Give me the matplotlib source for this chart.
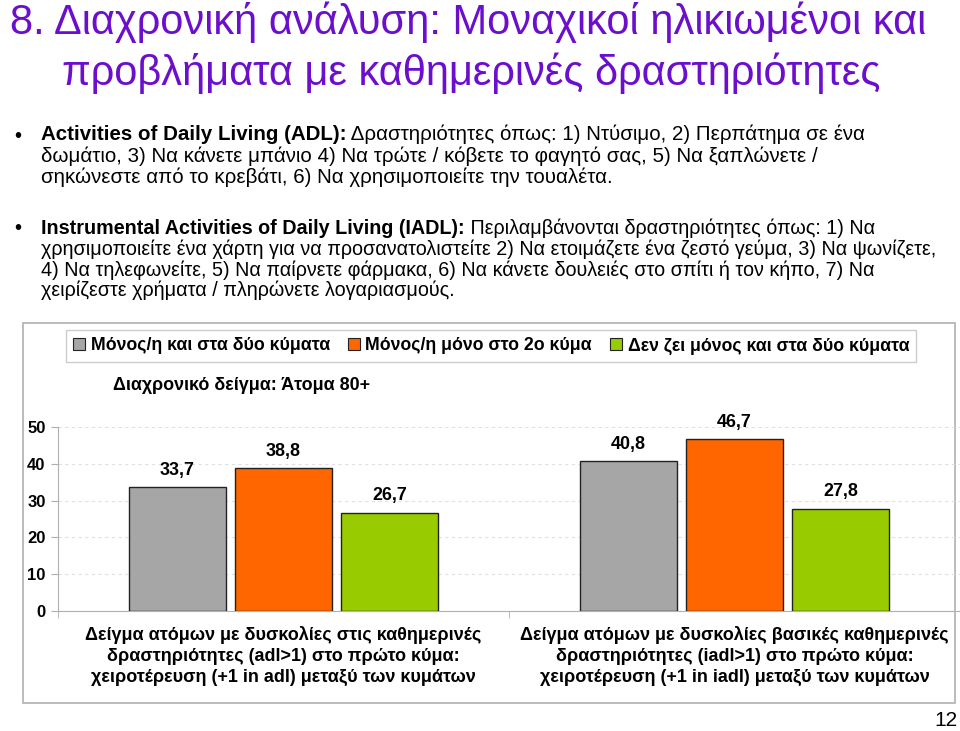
import matplotlib
matplotlib.use("Agg")
import matplotlib.pyplot as plt
from matplotlib.patches import Rectangle, Patch

plt.rcParams['font.family'] = ['Liberation Sans', 'DejaVu Sans']

W, H = 960, 731

# data
groups = ["Δείγμα ατόμων με δυσκολίες στις καθημερινές\nδραστηριότητες (adl>1) στο πρώτο κύμα:\nχειροτέρευση (+1 in adl) μεταξύ των κυμάτων",
          "Δείγμα ατόμων με δυσκολίες βασικές καθημερινές\nδραστηριότητες (iadl>1) στο πρώτο κύμα:\nχειροτέρευση (+1 in iadl) μεταξύ των κυμάτων"]
series = ["Μόνος/η και στα δύο κύματα", "Μόνος/η μόνο στο 2ο κύμα", "Δεν ζει μόνος και στα δύο κύματα"]
alone_both = [33.7, 40.8]
alone_w2 = [38.8, 46.7]
not_alone = [26.7, 27.8]
colors = ["#A6A6A6", "#FF6600", "#99CC00"]
yticks = [0, 10, 20, 30, 40, 50]

title = ["8. Διαχρονική ανάλυση: Μοναχικοί ηλικιωμένοι και",
         "προβλήματα με καθημερινές δραστηριότητες"]
adl_head = "Activities of Daily Living (ADL):"
adl_lines = [" Δραστηριότητες όπως: 1) Ντύσιμο, 2) Περπάτημα σε ένα",
             "δωμάτιο, 3) Να κάνετε μπάνιο 4) Να τρώτε / κόβετε το φαγητό σας, 5) Να ξαπλώνετε /",
             "σηκώνεστε από το κρεβάτι, 6) Να χρησιμοποιείτε την τουαλέτα."]
iadl_head = "Instrumental Activities of Daily Living (IADL):"
iadl_lines = [" Περιλαμβάνονται δραστηριότητες όπως: 1) Να",
              "χρησιμοποιείτε ένα χάρτη για να προσανατολιστείτε 2) Να ετοιμάζετε ένα ζεστό γεύμα, 3) Να ψωνίζετε,",
              "4) Να τηλεφωνείτε, 5) Να παίρνετε φάρμακα, 6) Να κάνετε δουλειές στο σπίτι ή τον κήπο, 7) Να",
              "χειρίζεστε χρήματα / πληρώνετε λογαριασμούς."]


def fx(px):
    return px / W


def fy(py):
    return 1 - py / H


fig = plt.figure(figsize=(9.6, 7.31), dpi=100)
bg = fig.add_axes([0, 0, 1, 1])
bg.set_xlim(0, 1)
bg.set_ylim(0, 1)
bg.axis("off")

# title
purple = "#6B0FCC"
bg.text(fx(10), fy(22), title[0], fontsize=30, color=purple, va="center")
bg.text(fx(62), fy(73), title[1], fontsize=30, color=purple, va="center")

# bullets
fs1 = 14.8
bg.text(fx(14), fy(136), "•", fontsize=fs1, va="center")
t = bg.text(fx(41), fy(135), adl_head, fontsize=fs1, fontweight="bold", va="center")
bg.annotate(adl_lines[0], xy=(1, 0), xycoords=t, va="bottom", fontsize=fs1)
bg.text(fx(41), fy(156), adl_lines[1], fontsize=fs1, va="center")
bg.text(fx(41), fy(177), adl_lines[2], fontsize=fs1, va="center")

fs2 = 14.2
bg.text(fx(14), fy(229), "•", fontsize=fs1, va="center")
t2 = bg.text(fx(41), fy(229), iadl_head, fontsize=fs2, fontweight="bold", va="center")
bg.annotate(iadl_lines[0], xy=(1, 0), xycoords=t2, va="bottom", fontsize=fs2)
for i, line in enumerate(iadl_lines[1:]):
    bg.text(fx(41), fy(249.5 + 20.5 * i), line, fontsize=fs2, va="center")

# chart frame
bg.add_patch(Rectangle((fx(23), fy(703)), fx(955) - fx(23), fy(323) - fy(703),
                       fill=False, edgecolor="#B0B0B0", lw=1.2))

# subtitle
bg.text(fx(113), fy(385), "Διαχρονικό δείγμα: Άτομα 80+", fontsize=12.9, fontweight="bold", va="center")

# page number
bg.text(fx(957), fy(720), "12", fontsize=15, ha="right", va="center")

# bar axes
ax = fig.add_axes([fx(58), fy(611), fx(960) - fx(58), fy(427) - fy(611)])
x = [0, 1]
off = 0.235
w = 0.213
vals = [alone_both, alone_w2, not_alone]
for k, (v, c) in enumerate(zip(vals, colors)):
    bars = ax.bar([xi + (k - 1) * off for xi in x], v, width=w, color=c,
                  edgecolor="#222222", linewidth=1.0, label=series[k], zorder=3)
    ax.bar_label(bars, labels=[f"{a:.1f}".replace(".", ",") for a in v],
                 padding=6, fontsize=12.9, fontweight="bold", clip_on=False)

ax.set_xlim(-0.5, 1.5)
ax.set_ylim(0, 50)
ax.set_yticks(yticks)
ax.set_yticklabels([str(v) for v in yticks], fontsize=12, fontweight="bold")
ax.set_xticks(x)
ax.set_xticklabels(groups, fontsize=13, fontweight="bold", linespacing=1.3)
ax.tick_params(axis="x", length=0, pad=11)
ax.set_xticks([-0.5, 0.5, 1.5], minor=True)
ax.tick_params(axis="x", which="minor", length=5, color="#B0B0B0")
ax.tick_params(axis="y", length=5, color="#B0B0B0", pad=4)
ax.grid(axis="y", linestyle=(0, (3, 3)), color="#E0E0E0", lw=0.8, zorder=0)
for s in ["top", "right"]:
    ax.spines[s].set_visible(False)
ax.spines["left"].set_color("#B0B0B0")
ax.spines["bottom"].set_color("#B0B0B0")
ax.set_facecolor("none")

# legend
handles = [Patch(facecolor=c, edgecolor="#222222", lw=0.8) for c in colors]
leg = fig.legend(handles, series, loc="center", bbox_to_anchor=(fx(491), fy(346)), ncol=3,
                 prop={"weight": "bold", "size": 12.8}, frameon=True, fancybox=False,
                 handlelength=0.7, handleheight=0.7, handletextpad=0.3, columnspacing=1.0,
                 borderpad=0.4)
leg.get_frame().set_edgecolor("#C0C0C0")
leg.get_frame().set_linewidth(1.0)

fig.savefig("out.png", dpi=100)
